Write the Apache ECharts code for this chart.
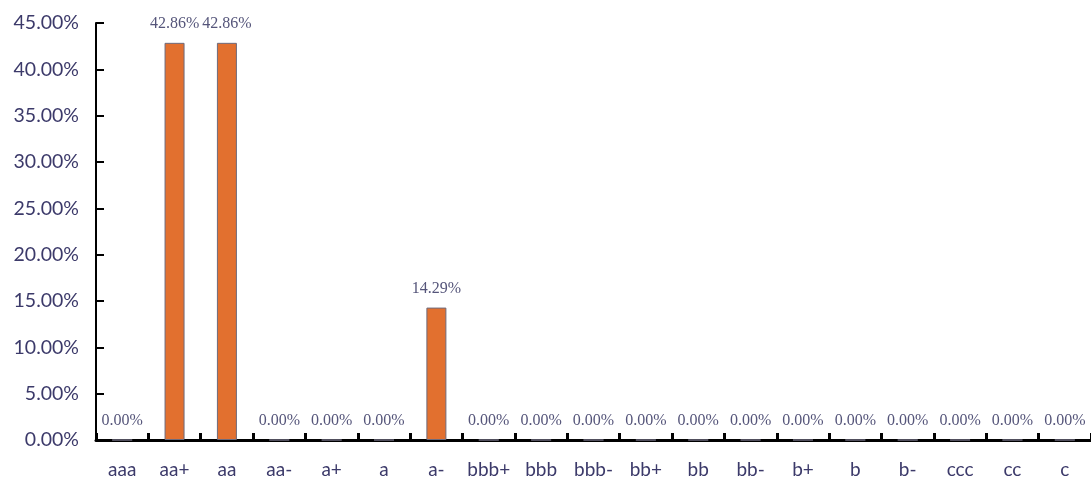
<!DOCTYPE html>
<html>
<head>
<meta charset="utf-8">
<script src="https://cdn.jsdelivr.net/npm/echarts@6/dist/echarts.min.js"></script>
<style>
  html, body { margin: 0; padding: 0; background: #ffffff; }
  #chart { width: 1091px; height: 479px; }
</style>
</head>
<body>
<div id="chart"></div>
<script>
// Rating grades along the horizontal axis
const categories = ['aaa', 'aa+', 'aa', 'aa-', 'a+', 'a', 'a-', 'bbb+', 'bbb', 'bbb-',
  'bb+', 'bb', 'bb-', 'b+', 'b', 'b-', 'ccc', 'cc', 'c'];
// Share of each grade, in percent
const shares = [0, 42.86, 42.86, 0, 0, 0, 14.29, 0, 0, 0,
  0, 0, 0, 0, 0, 0, 0, 0, 0];
// Value axis range and step, in percent
const yMin = 0;
const yMax = 45;
const yStep = 5;

const textColor = '#3c3a6a';

const chart = echarts.init(document.getElementById('chart'), null, { renderer: 'canvas' });
chart.setOption({
  animation: false,
  backgroundColor: '#ffffff',
  grid: { left: 96, right: -6, top: 23, bottom: 38, containLabel: false },
  xAxis: {
    type: 'category',
    data: categories,
    boundaryGap: true,
    axisLine: { show: true, lineStyle: { color: '#000000', width: 3 } },
    axisTick: { show: true, inside: true, length: 7, lineStyle: { color: '#000000', width: 3 } },
    axisLabel: {
      margin: 20,
      interval: 0,
      color: textColor,
      fontFamily: 'Lato, "Open Sans", sans-serif',
      fontSize: 19
    },
    splitLine: { show: false }
  },
  yAxis: {
    type: 'value',
    min: yMin,
    max: yMax,
    interval: yStep,
    axisLine: { show: true, lineStyle: { color: '#000000', width: 2 } },
    axisTick: { show: true, inside: true, length: 8, lineStyle: { color: '#000000', width: 2 } },
    axisLabel: {
      margin: 17,
      color: textColor,
      fontFamily: 'Lato, "Open Sans", sans-serif',
      fontSize: 19.5,
      formatter: v => v.toFixed(2) + '%'
    },
    splitLine: { show: false }
  },
  series: [{
    type: 'bar',
    data: shares,
    barWidth: 20,
    itemStyle: { color: '#e2702f', borderColor: '#6d6a7c', borderWidth: 1 },
    label: {
      show: true,
      position: 'top',
      distance: 11,
      color: '#55557a',
      fontFamily: '"Liberation Serif", "Times New Roman", serif',
      fontSize: 16,
      formatter: p => p.value.toFixed(2) + '%'
    }
  }]
});
</script>
</body>
</html>
